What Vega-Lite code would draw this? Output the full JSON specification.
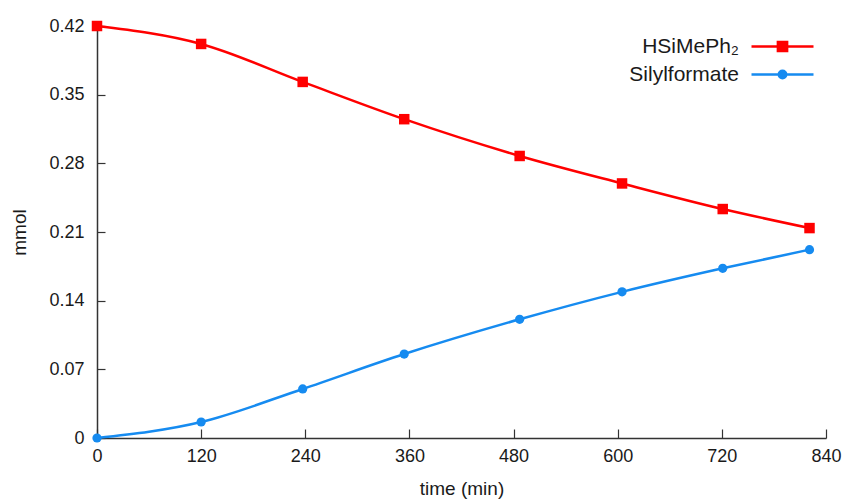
{
  "$schema": "https://vega.github.io/schema/vega-lite/v6.json",
  "width": 729,
  "height": 412,
  "autosize": {"type": "none"},
  "padding": {"left": 97, "top": 26, "right": 31, "bottom": 64},
  "background": "white",
  "config": {
    "view": {"stroke": null},
    "font": "Liberation Sans",
    "axis": {
      "grid": false,
      "domainColor": "#333333",
      "domainWidth": 1.5,
      "tickColor": "#333333",
      "tickWidth": 1.2,
      "labelColor": "#1a1a1a",
      "titleColor": "#1a1a1a",
      "labelFont": "Liberation Sans",
      "titleFont": "Liberation Sans",
      "labelFontSize": 18,
      "titleFontSize": 19,
      "titleFontWeight": "normal"
    }
  },
  "data": {
    "values": [
      {"series": "HSiMePh₂", "t": 0, "v": 0.42},
      {"series": "HSiMePh₂", "t": 120, "v": 0.4017},
      {"series": "HSiMePh₂", "t": 237, "v": 0.363},
      {"series": "HSiMePh₂", "t": 354, "v": 0.325},
      {"series": "HSiMePh₂", "t": 487, "v": 0.2875},
      {"series": "HSiMePh₂", "t": 605, "v": 0.2595},
      {"series": "HSiMePh₂", "t": 721, "v": 0.2334},
      {"series": "HSiMePh₂", "t": 821, "v": 0.214},
      {"series": "Silylformate", "t": 0, "v": 0.0},
      {"series": "Silylformate", "t": 120, "v": 0.0163},
      {"series": "Silylformate", "t": 237, "v": 0.05},
      {"series": "Silylformate", "t": 354, "v": 0.0856},
      {"series": "Silylformate", "t": 487, "v": 0.121},
      {"series": "Silylformate", "t": 605, "v": 0.149},
      {"series": "Silylformate", "t": 721, "v": 0.173},
      {"series": "Silylformate", "t": 821, "v": 0.192}
    ]
  },
  "encoding": {
    "x": {
      "field": "t",
      "type": "quantitative",
      "scale": {"domain": [0, 840], "nice": false, "zero": false},
      "axis": {
        "title": "time (min)",
        "values": [0, 120, 240, 360, 480, 600, 720, 840],
        "tickSize": -9,
        "labelPadding": 18,
        "titlePadding": 14,
        "labelFlush": false
      }
    },
    "y": {
      "field": "v",
      "type": "quantitative",
      "scale": {"domain": [0, 0.42], "nice": false},
      "axis": {
        "title": "mmol",
        "values": [0, 0.07, 0.14, 0.21, 0.28, 0.35, 0.42],
        "labelExpr": "datum.value === 0 ? '0' : format(datum.value, '.2f')",
        "tickSize": -8,
        "labelPadding": 21,
        "titlePadding": 19,
        "labelFlush": false
      }
    },
    "color": {
      "field": "series",
      "type": "nominal",
      "scale": {"domain": ["HSiMePh₂", "Silylformate"], "range": ["#ff0000", "#168bf0"]},
      "legend": {
        "title": null,
        "orient": "none",
        "legendX": 674,
        "legendY": 9,
        "labelFont": "Liberation Sans",
        "labelFontSize": 21,
        "labelColor": "#1a1a1a",
        "symbolSize": 400,
        "rowPadding": 6,
        "encode": {
          "symbols": {
            "update": {
              "shape": {"signal": "datum.value === 'HSiMePh₂' ? 'M-3.1,0H-0.46M0.46,0H3.1M-0.46,-0.46H0.46V0.46H-0.46Z' : 'M-3.1,0H-0.37M0.37,0H3.1M0.37,0A0.37,0.37 0 1,1 -0.37,0A0.37,0.37 0 1,1 0.37,0Z'"},
              "size": {"value": 400},
              "fill": {"scale": "color", "field": "value"},
              "stroke": {"scale": "color", "field": "value"},
              "strokeWidth": {"value": 2.5},
              "opacity": {"value": 1}
            }
          },
          "labels": {
            "update": {
              "x": {"value": -32},
              "align": {"value": "right"}
            }
          }
        }
      }
    }
  },
  "layer": [
    {
      "mark": {"type": "line", "interpolate": "monotone", "strokeWidth": 2.5}
    },
    {
      "transform": [{"filter": "datum.series === 'HSiMePh₂'"}],
      "mark": {"type": "point", "shape": "square", "filled": true, "opacity": 1, "size": 110}
    },
    {
      "transform": [{"filter": "datum.series === 'Silylformate'"}],
      "mark": {"type": "point", "shape": "circle", "filled": true, "opacity": 1, "size": 85}
    }
  ]
}
